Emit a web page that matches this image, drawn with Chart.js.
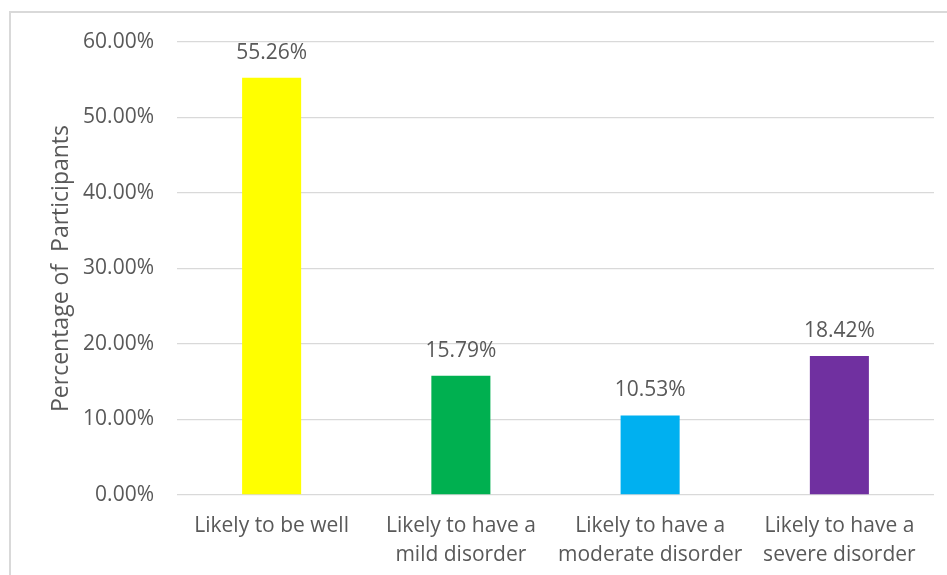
<!DOCTYPE html>
<html>
<head>
<meta charset="utf-8">
<script src="https://cdn.jsdelivr.net/npm/chart.js@4/dist/chart.umd.min.js"></script>
<style>
  html, body { margin: 0; padding: 0; background: #ffffff; }
  body { width: 947px; height: 575px; position: relative; overflow: hidden; }
  #frame { position: absolute; left: 9px; top: 11px; width: 1000px; height: 700px; border-left: 2px solid #d9d9d9; border-top: 2px solid #d9d9d9; box-sizing: border-box; }
  #wrap { position: absolute; left: 0; top: 0; width: 947px; height: 575px; }
</style>
</head>
<body>
<div id="frame"></div>
<div id="wrap"><canvas id="c" width="947" height="575"></canvas></div>
<script>
const categories = [
  ["Likely to be well"],
  ["Likely to have a", "mild disorder"],
  ["Likely to have a", "moderate disorder"],
  ["Likely to have a", "severe disorder"]
];
const percentValues = [55.26, 15.79, 10.53, 18.42];
const barColors = ["#FFFF00", "#00B050", "#00B0F0", "#7030A0"];
const yTicksMin = 0, yTicksMax = 60, yTicksStep = 10;
const yAxisTitle = "Percentage of  Participants";

const textColor = "#595959";
const fontFamily = "'Open Sans', sans-serif";

const dataLabels = {
  id: 'dataLabels',
  afterDatasetsDraw(chart) {
    const ctx = chart.ctx;
    const meta = chart.getDatasetMeta(0);
    ctx.save();
    ctx.fillStyle = textColor;
    ctx.font = "21px " + fontFamily;
    ctx.textAlign = 'center';
    ctx.textBaseline = 'middle';
    meta.data.forEach((el, i) => {
      ctx.fillText(percentValues[i].toFixed(2) + '%', el.x, el.y - 25);
    });
    ctx.restore();
  }
};

new Chart(document.getElementById('c'), {
  type: 'bar',
  data: {
    labels: categories,
    datasets: [{
      data: percentValues,
      backgroundColor: barColors,
      borderWidth: 0,
      categoryPercentage: 1,
      barPercentage: 0.312
    }]
  },
  options: {
    responsive: false,
    animation: false,
    layout: { padding: { left: 40, right: 13, top: 42, bottom: 0 } },
    plugins: { legend: { display: false }, tooltip: { enabled: false } },
    scales: {
      x: {
        grid: { display: false, drawTicks: false },
        border: { display: false },
        ticks: {
          color: textColor,
          font: { family: fontFamily, size: 21, lineHeight: 1.35 },
          padding: 17,
          maxRotation: 0,
          autoSkip: false
        },
        afterFit(scale) { scale.height = 80; }
      },
      y: {
        min: yTicksMin,
        max: yTicksMax,
        grid: { color: "#d9d9d9", lineWidth: 1.3, drawTicks: false },
        border: { display: false },
        ticks: {
          stepSize: yTicksStep,
          color: textColor,
          font: { family: fontFamily, size: 21 },
          padding: 23,
          callback: (v) => v.toFixed(2) + '%'
        },
        title: {
          display: true,
          text: yAxisTitle,
          color: textColor,
          font: { family: fontFamily, size: 23 },
          padding: { top: 8, bottom: 0 }
        },
        afterFit(scale) { scale.width = 137; }
      }
    }
  },
  plugins: [dataLabels]
});
</script>
</body>
</html>
